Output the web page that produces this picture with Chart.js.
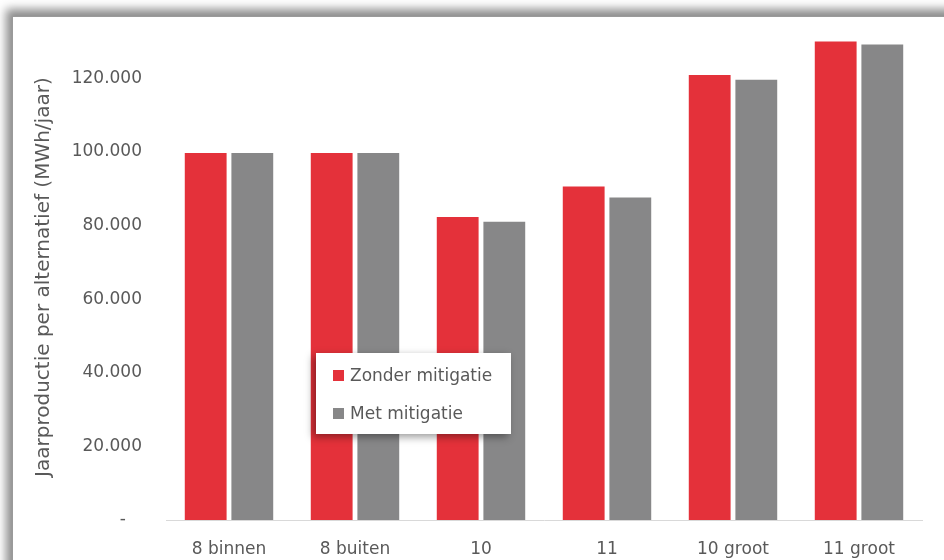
<!DOCTYPE html>
<html lang="nl">
<head>
    <meta charset="UTF-8">
    <title>Jaarproductie per alternatief</title>
    <script src="https://cdn.jsdelivr.net/npm/chart.js"></script>
    <style>
        html, body {
            margin: 0;
            padding: 0;
            width: 944px;
            height: 560px;
            overflow: hidden;
            background: #fff;
            font-family: "DejaVu Sans", sans-serif;
        }
        /* kader rond de grafiek met schaduw links/boven */
        .frame {
            position: absolute;
            left: 12px;
            top: 16px;
            width: 1000px;
            height: 620px;
            background: #fff;
            border: 1px solid #9a9a9a;
            box-shadow: -6px -7px 9px rgba(0, 0, 0, 0.45);
        }
        .chart-box {
            position: absolute;
            left: 0;
            top: 0;
            width: 944px;
            height: 560px;
        }
        .legend {
            position: absolute;
            left: 316px;
            top: 353px;
            width: 195px;
            height: 81px;
            background: #fff;
            box-shadow: -3px 3px 8px rgba(0, 0, 0, 0.4);
            box-sizing: border-box;
            padding-top: 11px;
            padding-left: 17px;
        }
        .legend div {
            height: 38px;
            line-height: 22px;
            font-size: 17px;
            color: #595959;
            white-space: nowrap;
        }
        .legend span {
            display: inline-block;
            width: 11px;
            height: 11px;
            margin-right: 6px;
            vertical-align: 0px;
        }
    </style>
</head>
<body>
    <div class="frame"></div>
    <div class="chart-box"><canvas id="chart" width="944" height="560"></canvas></div>
    <div class="legend" id="legend"></div>
    <script>
        const categories = ['8 binnen', '8 buiten', '10', '11', '10 groot', '11 groot'];
        const zonderMitigatie = [100000, 100000, 82600, 90900, 121200, 130300];
        const metMitigatie = [100000, 100000, 81300, 87900, 119900, 129500];
        const yTicks = [0, 20000, 40000, 60000, 80000, 100000, 120000];

        const red = '#e4313a';
        const grey = '#878788';
        const textColor = '#595959';
        const fontFamily = 'DejaVu Sans';

        function formatNumber(v) {
            if (v === 0) return '-   ';
            return String(v).replace(/\B(?=(\d{3})+(?!\d))/g, '.');
        }

        const chart = new Chart(document.getElementById('chart'), {
            type: 'bar',
            data: {
                labels: categories,
                datasets: [
                    { label: 'Zonder mitigatie', data: zonderMitigatie, backgroundColor: red, borderColor: 'rgba(255,255,255,0.55)', borderWidth: 1 },
                    { label: 'Met mitigatie', data: metMitigatie, backgroundColor: grey, borderColor: 'rgba(255,255,255,0.55)', borderWidth: 1 }
                ]
            },
            options: {
                responsive: false,
                animation: false,
                layout: { padding: { top: 30, right: 22, left: 0, bottom: 0 } },
                datasets: { bar: { categoryPercentage: 0.74, barPercentage: 0.94 } },
                plugins: {
                    legend: { display: false },
                    tooltip: { enabled: false }
                },
                scales: {
                    x: {
                        grid: { display: false, drawTicks: false },
                        border: { display: true, color: '#d9d9d9', width: 1 },
                        ticks: { color: textColor, font: { family: fontFamily, size: 17 }, padding: 19, maxRotation: 0 },
                        afterFit: scale => { scale.height = 40; }
                    },
                    y: {
                        min: 0,
                        max: 132000,
                        grid: { display: false, drawTicks: false },
                        border: { display: false },
                        afterBuildTicks: scale => { scale.ticks = yTicks.map(v => ({ value: v })); },
                        ticks: {
                            color: textColor,
                            font: { family: fontFamily, size: 17 },
                            padding: 24,
                            callback: v => formatNumber(v)
                        },
                        title: {
                            display: true,
                            text: 'Jaarproductie per alternatief (MWh/jaar)',
                            color: textColor,
                            font: { family: fontFamily, size: 20, weight: 'normal' },
                            padding: { top: 32, bottom: 0 }
                        },
                        afterFit: scale => { scale.width = 166; }
                    }
                }
            }
        });

        // legenda als los kader binnen het plotgebied
        const legend = document.getElementById('legend');
        chart.data.datasets.forEach(ds => {
            const row = document.createElement('div');
            const box = document.createElement('span');
            box.style.background = ds.backgroundColor;
            row.appendChild(box);
            row.appendChild(document.createTextNode(ds.label));
            legend.appendChild(row);
        });
    </script>
</body>
</html>
